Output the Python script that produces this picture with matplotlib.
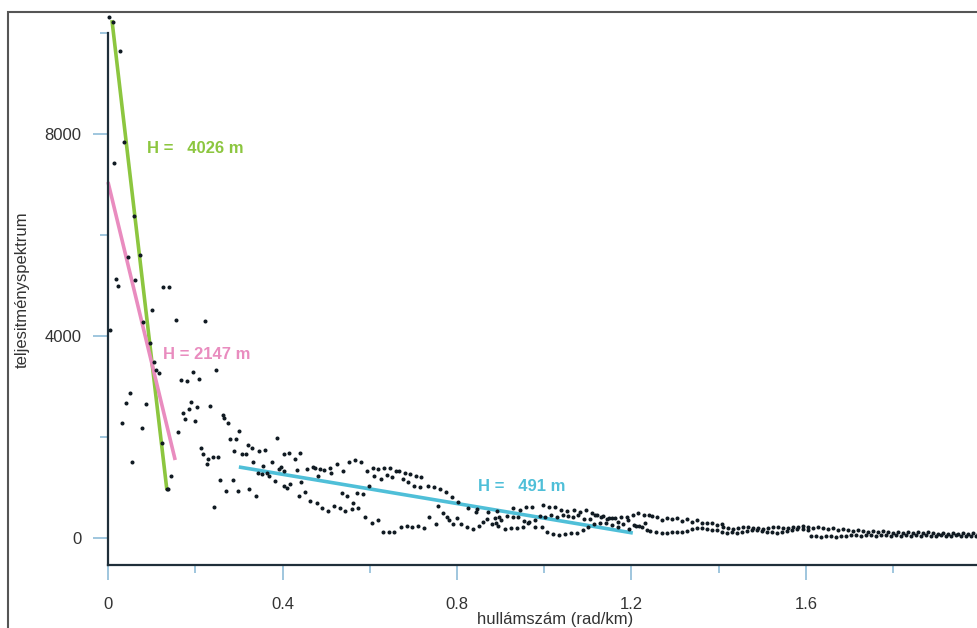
import numpy as np
import matplotlib
matplotlib.use("Agg")
from matplotlib import pyplot as plt
from matplotlib.patches import Rectangle

plt.rcParams['font.family'] = ['Liberation Sans', 'DejaVu Sans']

# teljesítményspektrum pontok, leolvasva (hullámszám rad/km, érték)
k_low = [0.002, 0.011, 0.028, 0.037, 0.014, 0.060, 0.046, 0.073, 0.018, 0.023,
         0.062, 0.126, 0.140, 0.101, 0.080, 0.156, 0.222, 0.005, 0.096, 0.105,
         0.110, 0.117, 0.195, 0.248, 0.167, 0.181, 0.209, 0.050, 0.041, 0.087,
         0.190, 0.172, 0.186, 0.204, 0.234, 0.177, 0.199, 0.032, 0.078, 0.160,
         0.124, 0.055, 0.144, 0.135, 0.138, 0.243, 0.264, 0.266, 0.275, 0.213,
         0.218, 0.229, 0.241, 0.252, 0.227, 0.257, 0.270, 0.287, 0.298, 0.280,
         0.293, 0.300, 0.289, 0.307, 0.316, 0.321, 0.332, 0.323, 0.339]
p_low = [10316, 10217, 9643, 7841, 7425, 6376, 5564, 5603, 5128, 4990,
         5108, 4970, 4970, 4514, 4277, 4316, 4297, 4118, 3861, 3485,
         3326, 3267, 3287, 3326, 3128, 3109, 3148, 2871, 2673, 2653,
         2693, 2475, 2554, 2594, 2614, 2356, 2317, 2277, 2178, 2099,
         1881, 1505, 1228, 970, 970, 614, 2435, 2376, 2277, 1782,
         1663, 1564, 1604, 1604, 1465, 1148, 931, 1148, 931, 1960,
         1960, 2119, 1723, 1663, 1663, 1841, 1505, 970, 832]

k_mid = [0.330, 0.346, 0.360, 0.387, 0.355, 0.376, 0.344, 0.353, 0.364, 0.369,
         0.403, 0.415, 0.429, 0.440, 0.392, 0.397, 0.403, 0.383, 0.403, 0.410,
         0.417, 0.433, 0.456, 0.470, 0.475, 0.486, 0.495, 0.509, 0.525, 0.552,
         0.442, 0.452, 0.438, 0.481, 0.511, 0.539, 0.463, 0.479, 0.491, 0.504,
         0.518, 0.532, 0.543, 0.536, 0.548,
         0.566, 0.580, 0.594, 0.607, 0.619, 0.633, 0.646, 0.660, 0.667, 0.681,
         0.692, 0.706, 0.717, 0.734, 0.747, 0.761, 0.775, 0.789, 0.802, 0.825,
         0.846, 0.871, 0.892,
         0.610, 0.626, 0.640, 0.651, 0.676, 0.688, 0.701, 0.715, 0.598, 0.571,
         0.585, 0.562, 0.573, 0.559, 0.589, 0.605, 0.619, 0.630, 0.644, 0.656,
         0.672, 0.685, 0.697, 0.711, 0.724, 0.736, 0.752, 0.756, 0.768, 0.777,
         0.782, 0.791, 0.800, 0.809, 0.823, 0.837, 0.844, 0.850, 0.860, 0.869,
         0.880, 0.889, 0.896]
p_mid = [1782, 1723, 1742, 1980, 1426, 1505, 1287, 1267, 1287, 1228,
         1663, 1683, 1564, 1683, 1366, 1406, 1327, 1129, 1030, 990,
         1069, 1346, 1366, 1406, 1386, 1366, 1346, 1386, 1465, 1505,
         1109, 911, 832, 1228, 1287, 1327, 733, 693, 594, 535,
         634, 594, 535, 891, 832,
         1544, 1505, 1327, 1386, 1366, 1386, 1386, 1327, 1327, 1287,
         1267, 1228, 1208, 1030, 1010, 970, 911, 812, 713, 594,
         574, 515, 535,
         1228, 1168, 1247, 1208, 1168, 1109, 1030, 1010, 1030, 891,
         871, 693, 594, 574, 416, 297, 356, 119, 119, 119,
         218, 238, 218, 238, 198, 416, 277, 634, 495, 416,
         356, 277, 396, 277, 218, 178, 515, 238, 317, 376,
         277, 297, 416]

k_band = [0.928, 0.944, 0.958, 0.972, 0.997, 1.011, 1.025, 1.038, 1.052, 1.068,
          1.082, 1.096, 1.109, 1.121, 1.135, 1.148, 1.162, 1.176, 1.190, 1.203,
          1.215, 1.229, 1.240,
          0.887, 0.901, 0.915, 0.928, 0.940, 0.954, 0.965, 0.979, 0.990, 1.002,
          1.016, 1.029, 1.043, 1.054, 1.066, 1.077, 1.091, 1.105, 1.116, 1.130,
          1.144, 1.155, 1.169, 1.181, 1.192, 1.206, 1.217, 1.231,
          0.894, 0.910, 0.924, 0.938, 0.951, 0.963, 0.979, 0.995, 1.006, 1.020,
          1.034, 1.048, 1.061, 1.075, 1.089, 1.100, 1.114, 1.128, 1.142, 1.155,
          1.169, 1.194, 1.210, 1.224, 1.236]
p_band = [594, 554, 614, 614, 653, 614, 614, 554, 535, 554,
          515, 554, 495, 455, 436, 396, 396, 416, 416, 455,
          495, 455, 455,
          396, 356, 436, 416, 416, 337, 317, 356, 436, 416,
          455, 416, 455, 436, 416, 455, 376, 376, 455, 416,
          376, 396, 317, 277, 356, 257, 238, 297,
          238, 178, 198, 198, 218, 297, 218, 218, 119, 79,
          59, 79, 99, 99, 158, 218, 277, 297, 297, 257,
          218, 178, 238, 218, 158]

k_tail = [1.247, 1.258, 1.270, 1.281, 1.293, 1.304, 1.316, 1.327, 1.339, 1.350,
          1.362, 1.373, 1.385, 1.396, 1.407,
          1.242, 1.256, 1.270, 1.281, 1.293, 1.304, 1.316, 1.327, 1.339, 1.350,
          1.362, 1.373, 1.385, 1.396, 1.407, 1.419, 1.430, 1.442, 1.453, 1.465,
          1.476, 1.488, 1.499, 1.511, 1.522, 1.534, 1.545, 1.556, 1.568, 1.579,
          1.593, 1.605,
          1.410, 1.421, 1.433, 1.444, 1.456, 1.467, 1.479, 1.490, 1.501, 1.513,
          1.524, 1.536, 1.547, 1.559, 1.570, 1.582, 1.593,
          1.605, 1.616, 1.628, 1.639, 1.650, 1.662, 1.673, 1.685, 1.696, 1.708,
          1.719, 1.731, 1.742, 1.754, 1.765, 1.777, 1.788, 1.799, 1.811, 1.822,
          1.834, 1.845, 1.857, 1.868, 1.880, 1.891, 1.903, 1.914, 1.926, 1.937,
          1.948, 1.960, 1.971, 1.983, 1.994,
          1.612, 1.623, 1.635, 1.646, 1.657, 1.669, 1.680, 1.692, 1.703, 1.715,
          1.726, 1.738, 1.749, 1.760, 1.772, 1.783, 1.795, 1.806, 1.818, 1.829,
          1.841, 1.852, 1.864, 1.875, 1.887, 1.898, 1.909, 1.921, 1.932, 1.944,
          1.955, 1.967, 1.978, 1.990]
p_tail = [436, 416, 356, 396, 376, 396, 337, 376, 317, 356,
          297, 297, 297, 257, 277,
          139, 119, 99, 99, 119, 119, 119, 139, 178, 198,
          198, 178, 158, 158, 119, 99, 119, 99, 119, 139,
          158, 158, 139, 119, 119, 99, 119, 139, 158, 178,
          178, 158,
          218, 198, 178, 198, 218, 218, 198, 198, 178, 198,
          218, 218, 198, 198, 218, 218, 238,
          218, 198, 218, 198, 178, 198, 158, 178, 158, 139,
          158, 139, 119, 139, 119, 139, 119, 99, 119, 99,
          119, 99, 119, 99, 119, 99, 79, 99, 79, 99,
          79, 99, 79, 99, 79,
          40, 40, 20, 40, 40, 20, 40, 40, 59, 59,
          40, 59, 59, 40, 59, 59, 40, 59, 40, 59,
          40, 59, 40, 59, 40, 40, 59, 40, 40, 59,
          40, 40, 40, 40]

# illesztett egyenesek végpontjai és a mélységek
green_k, green_p = [0.009, 0.135], [10256, 950]
pink_k, pink_p = [0.000, 0.154], [7049, 1544]
cyan_k, cyan_p = [0.300, 1.203], [1406, 99]
labels = ["H =   4026 m", "H = 2147 m", "H =   491 m"]
label_pos = [(0.089, 7722), (0.126, 3643), (0.848, 1010)]
colors = ['#8cc63f', '#e98cbf', '#4fbfd8']

fig = plt.figure(figsize=(9.78, 6.28), dpi=100)
# külső keret
fig.patches.append(Rectangle((8/978, -0.1), 1.2, 1.1 - 12/628, transform=fig.transFigure,
                             fill=False, edgecolor='#555555', linewidth=1.5))

ax_w = 2.05*436.25  # tengely szélessége pixelben
ax = fig.add_axes([108/978, 63/628, ax_w/978, 532/628])
ax.set_xlim(0, 2.05)
ax.set_ylim(-535, 10000)

for sp in ['top', 'right']:
    ax.spines[sp].set_visible(False)
for sp in ['left', 'bottom']:
    ax.spines[sp].set_color('#1f2f3a')
    ax.spines[sp].set_linewidth(1.6)

ax.set_xticks([0, 0.4, 0.8, 1.2, 1.6, 2.0])
ax.set_xticklabels(['0', '0.4', '0.8', '1.2', '1.6', '2'])
ax.set_xticks([0.2, 0.6, 1.0, 1.4, 1.8], minor=True)
ax.set_yticks([0, 4000, 8000])
ax.set_yticks([2000, 6000, 10000], minor=True)
ax.tick_params(which='major', length=11, width=1.2, color='#8fbcd8',
               labelsize=12, labelcolor='#333333', pad=8)
ax.tick_params(which='minor', length=6, width=1.2, color='#8fbcd8')
ax.tick_params(axis='x', which='major', pad=12)

ax.set_xlabel('hullámszám (rad/km)', fontsize=12, color='#333333', labelpad=0)
ax.set_ylabel('teljesitményspektrum', fontsize=12, color='#333333')
ax.yaxis.set_label_coords(-78 / ax_w, 0.5 + 9/532)

for kk, pp in [(k_low, p_low), (k_mid, p_mid), (k_band, p_band), (k_tail, p_tail)]:
    ax.plot(kk, pp, ls='none', marker='o', ms=1.9, color='#101a22', clip_on=False, zorder=3)

for (lk, lp), c in zip([(green_k, green_p), (pink_k, pink_p), (cyan_k, cyan_p)], colors):
    ax.plot(lk, lp, color=c, lw=2.6, solid_capstyle='butt', clip_on=False, zorder=2)

for txt, (tx, ty), c in zip(labels, label_pos, colors):
    ax.text(tx, ty, txt, color=c, fontsize=12, fontweight='bold', va='center', ha='left')

fig.savefig('out.png', dpi=100)
